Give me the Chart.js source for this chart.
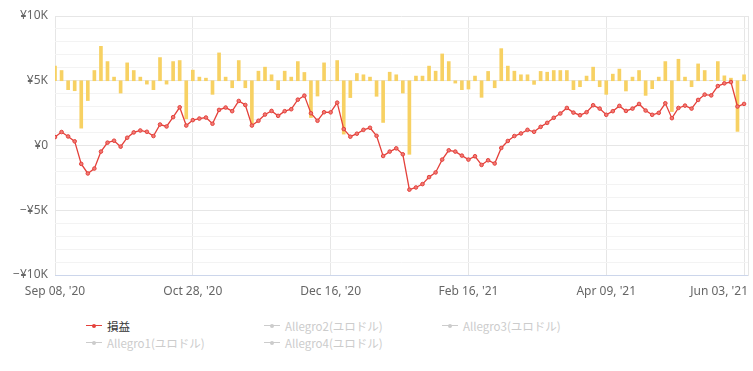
<!DOCTYPE html>
<html>
<head>
<meta charset="utf-8">
<script src="https://cdn.jsdelivr.net/npm/chart.js@4.4.1/dist/chart.umd.min.js"></script>
<style>
  body { margin: 0; background: #fff; }
  #wrap { position: relative; width: 753px; height: 371px; }
  #chart { position: absolute; left: 0; top: 0; }
  #legend {
    position: absolute; left: 86px; top: 317px;
    display: grid; grid-template-columns: 178px 178px 178px; grid-auto-rows: 17px;
    font: 11.5px "Noto Sans CJK JP", "Noto Sans", sans-serif;
  }
  .item { display: flex; align-items: center; cursor: pointer; white-space: nowrap; }
  .mark { position: relative; width: 16px; height: 1px; margin-right: 5px; }
  .mark i { position: absolute; left: 6px; top: -1.5px; width: 4px; height: 4px; border-radius: 50%; }
</style>
</head>
<body>
<div id="wrap">
  <canvas id="chart" width="753" height="310"></canvas>
  <div id="legend"></div>
</div>
<script>
Chart.defaults.font.family = '"Noto Sans", "Open Sans", sans-serif';
Chart.defaults.font.size = 12;
Chart.defaults.color = '#666';

const lineColor = '#e4413b';
const barColor = '#f7d163';
const gridColor = '#e6e6e6';
const minorGridColor = '#f3f3f3';

// x axis labels, one every tickStep points
const tickLabels = ["Sep 08, '20", "Oct 28, '20", "Dec 16, '20", "Feb 16, '21", "Apr 09, '21", "Jun 03, '21"];
const tickStep = 21;

// cumulative profit (yen)
const pnl = [
  650, 1040, 700, 320, -1420, -2160, -1780, -470, 220, 370,
  -90, 600, 1010, 1160, 1060, 730, 1620, 1470, 2190, 2950,
  1540, 1960, 2080, 2160, 1680, 2750, 2930, 2650, 3440, 3130,
  1540, 1910, 2390, 2670, 2290, 2650, 2800, 3540, 3850, 2490,
  1910, 2570, 2560, 3310, 1270, 680, 910, 1210, 1370, 750,
  -810, -470, -220, -680, -3410, -3240, -2980, -2440, -2080, -1090,
  -370, -470, -780, -1090, -830, -1500, -1140, -1390, -190, 350,
  730, 930, 1210, 1060, 1440, 1750, 2140, 2470, 2900, 2540,
  2340, 2570, 3110, 2850, 2370, 2650, 3060, 2670, 2850, 3210,
  2700, 2370, 2520, 3260, 2110, 2900, 3080, 2850, 3520, 3930,
  3870, 4590, 4800, 4900, 3010, 3210
];

// daily profit (yen), drawn as bars on their own axis
const daily = [
  565, 395, -345, -385, -1830, -765, 395, 1330, 740, 140,
  -475, 690, 395, 140, -130, -345, 895, -130, 740, 780,
  -1470, 410, 140, 100, -525, 1075, 140, -270, 780, -270,
  -1740, 370, 525, 230, -345, 370, 140, 740, 320, -1420,
  -590, 690, 0, 780, -2060, -650, 280, 230, 140, -600,
  -1610, 330, 230, -475, -2840, 180, 180, 565, 370, 1035,
  740, -90, -345, -320, 180, -640, 360, -270, 1240, 565,
  370, 230, 230, -140, 360, 330, 395, 395, 395, -345,
  -230, 180, 525, -230, -525, 255, 450, -395, 140, 395,
  -565, -305, 140, 740, -1190, 830, 140, -230, 650, 395,
  10, 740, 190, 100, -1955, 230
];

const seriesNames = ['損益', 'Allegro1(ユロドル)', 'Allegro2(ユロドル)', 'Allegro3(ユロドル)', 'Allegro4(ユロドル)'];
const legendOrder = [0, 2, 3, 1, 4];

function yen(v) {
  if (v === 0) return '¥0';
  return (v < 0 ? '\u2212' : '') + '¥' + Math.abs(v) / 1000 + 'K';
}

// keep the last x label inside the plot, like the original
const lastLabelInside = {
  id: 'lastLabelInside',
  beforeDraw(chart) {
    const items = chart.scales.x.getLabelItems();
    const last = items[items.length - 1];
    if (!last) return;
    last.options.textAlign = 'right';
    last.options.translation[0] = chart.chartArea.right;
  }
};

const datasets = [
  {
    type: 'line',
    label: seriesNames[0],
    data: pnl.map((v, i) => ({ x: i, y: v })),
    borderColor: lineColor,
    borderWidth: 1.3,
    tension: 0,
    pointRadius: 1.8,
    pointBackgroundColor: '#f07a75',
    pointBorderColor: lineColor,
    pointBorderWidth: 1,
    order: 1
  }
];
seriesNames.slice(1).forEach(name => {
  datasets.push({ type: 'line', label: name, data: [], hidden: true, borderColor: '#ccc', order: 1 });
});
datasets.push({
  type: 'bar',
  label: 'daily',
  data: daily.map((v, i) => ({ x: i, y: v })),
  yAxisID: 'y2',
  backgroundColor: barColor,
  barThickness: 3,
  order: 2
});

const chart = new Chart(document.getElementById('chart'), {
  data: { datasets },
  plugins: [lastLabelInside],
  options: {
    responsive: false,
    animation: false,
    layout: { padding: { top: 16, right: 4 } },
    plugins: {
      legend: { display: false }
    },
    scales: {
      x: {
        type: 'linear',
        offset: false,
        min: 0,
        max: 105.6,
        afterBuildTicks: s => { s.ticks = tickLabels.map((_, k) => ({ value: k * tickStep })); },
        afterFit: s => { s.paddingRight = 0; s.height = 35; },
        ticks: {
          callback: (v, i) => tickLabels[i],
          autoSkip: false,
          maxRotation: 0,
          padding: 9,
          color: '#666'
        },
        grid: { color: gridColor, drawTicks: false, offset: false },
        border: { color: '#ccd6eb' }
      },
      y: {
        min: -10000,
        max: 10000,
        afterFit: s => { s.width = 55; },
        ticks: {
          stepSize: 1000,
          autoSkip: false,
          padding: 7,
          color: '#666',
          callback: v => v % 5000 === 0 ? yen(v) : ''
        },
        grid: {
          drawTicks: false,
          color: c => c.tick.value % 5000 === 0 ? gridColor : minorGridColor
        },
        border: { display: false }
      },
      y2: {
        position: 'right',
        min: -7500,
        max: 2500,
        ticks: { display: false },
        grid: { display: false, drawTicks: false },
        border: { color: gridColor }
      }
    }
  }
});

// html legend in the original's grid layout
const legend = document.getElementById('legend');
function buildLegend() {
  legend.innerHTML = '';
  legendOrder.forEach(i => {
    const on = chart.isDatasetVisible(i);
    const col = on ? chart.data.datasets[i].borderColor : '#ccc';
    const item = document.createElement('div');
    item.className = 'item';
    item.innerHTML = '<span class="mark" style="background:' + col + '"><i style="background:' + col + '"></i></span>' +
      '<span style="color:' + (on ? '#333' : '#ccc') + '">' + chart.data.datasets[i].label + '</span>';
    item.onclick = () => {
      chart.setDatasetVisibility(i, !on);
      chart.update();
      buildLegend();
    };
    legend.appendChild(item);
  });
}
buildLegend();
</script>
</body>
</html>
